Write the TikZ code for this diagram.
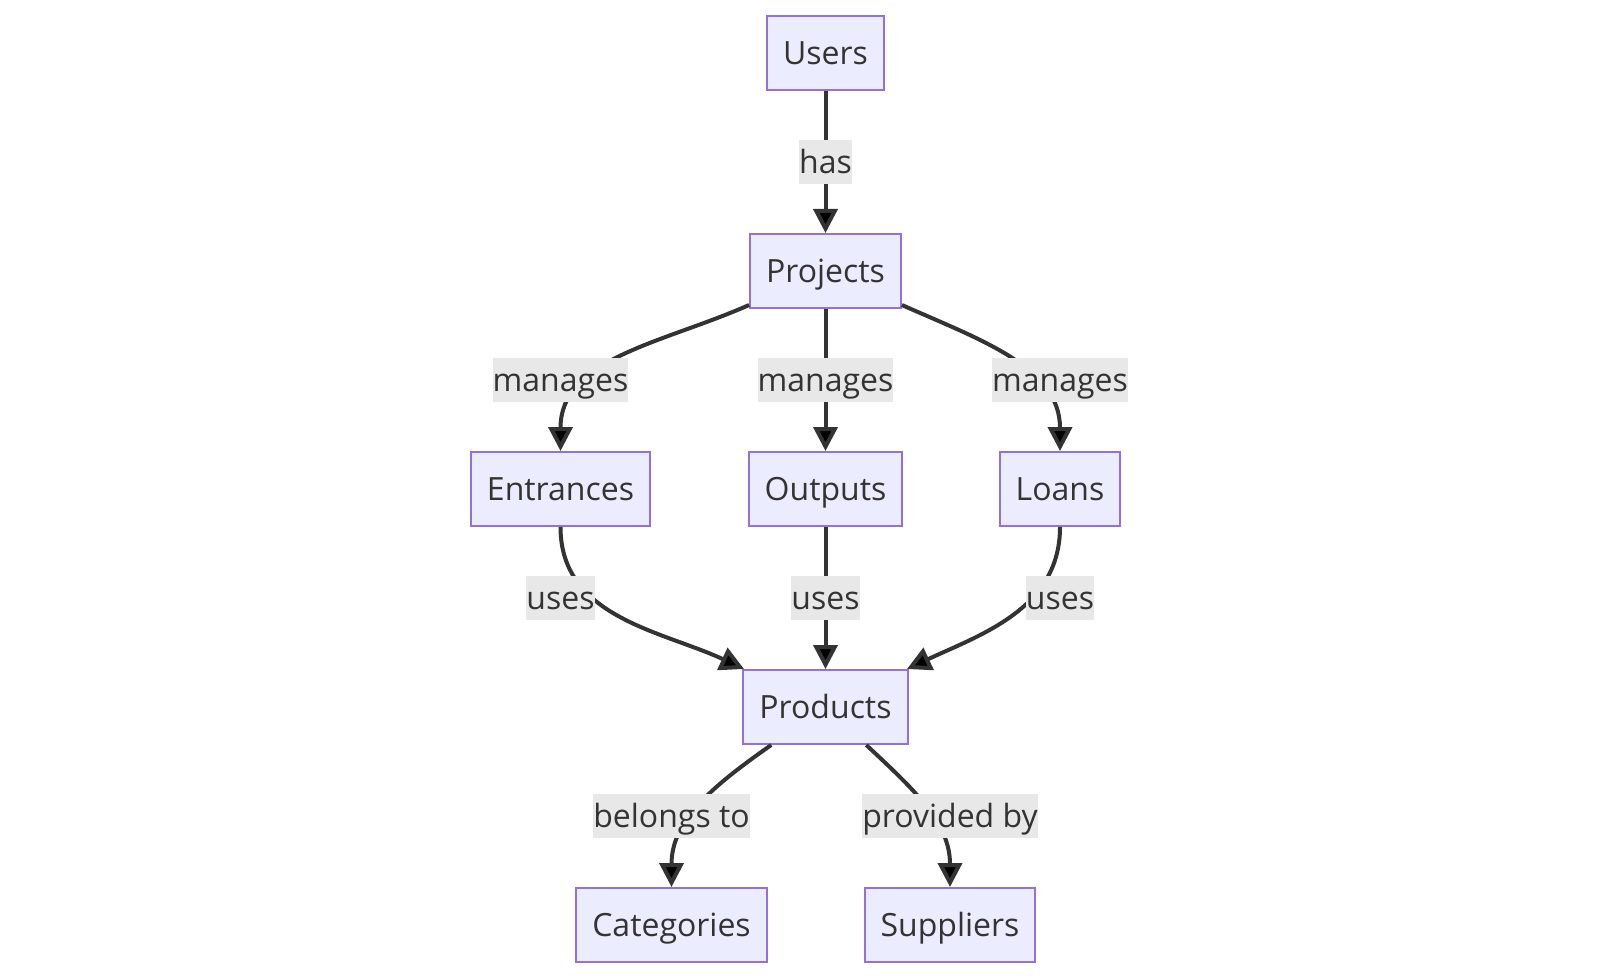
\documentclass[tikz,border=0pt]{standalone}
\usepackage{fontspec}
\setmainfont{Open Sans}
\usepackage{tikz}
\usetikzlibrary{positioning,arrows.meta}

\definecolor{boxfill}{HTML}{ECECFF}
\definecolor{boxline}{HTML}{9370DB}
\definecolor{ink}{HTML}{333333}
\definecolor{lblfill}{HTML}{E8E8E8}

\begin{document}
\begin{tikzpicture}[on grid,node distance=109pt,
    box/.style={rectangle,draw=boxline,fill=boxfill,line width=1pt,text=ink,
      inner xsep=8pt,minimum height=37pt,text height=12pt,text depth=0.6pt,
      font=\fontsize{16}{19}\selectfont},
    lbl/.style={fill=lblfill,text=ink,inner xsep=0pt,inner ysep=0pt,minimum height=22pt,
      text height=12pt,text depth=0.6pt,font=\fontsize{16}{19}\selectfont},
    link/.style={draw=ink,line width=2pt,-{Triangle[length=12pt,width=12pt]}}]
  \useasboundingbox (0,0) rectangle (800pt,-489pt);

  \node[box]   (u)  at (412.75pt,-26.5pt)                  {Users};
  \node[box]   (p)  [below=of u]                           {Projects};
  \node[box]   (e)  [below left=109pt and 132.5pt of p]    {Entrances};
  \node[box]   (o)  [below=of p]                           {Outputs};
  \node[box]   (l)  [below right=109pt and 117.25pt of p]  {Loans};
  \node[box]   (pr) [below=of o]                           {Products};
  \node[box]   (c)  [below left=109pt and 77pt of pr]      {Categories};
  \node[box]   (s)  [below right=109pt and 62.25pt of pr]  {Suppliers};

  \path[link] (u)  edge                    (p)
              (p)  edge [out=204,in=90]    (e)
                   edge                    (o)
                   edge [out=-24,in=90]    (l)
              (e)  edge [out=-90,in=155]   (pr)
              (o)  edge                    (pr)
              (l)  edge [out=-90,in=25]    (pr)
              (pr) edge [out=215,in=90]    (c)
                   edge [out=-43,in=90]    (s);

  \node[lbl] (has)  [below=54.5pt of u] {has};
  \node[lbl] (mgE)  [above=54.5pt of e] {manages};
  \node[lbl] (mgO)  [above=54.5pt of o] {manages};
  \node[lbl] (mgL)  [above=54.5pt of l] {manages};
  \node[lbl] (usE)  [below=54.5pt of e] {uses};
  \node[lbl] (usO)  [below=54.5pt of o] {uses};
  \node[lbl] (usL)  [below=54.5pt of l] {uses};
  \node[lbl] (blg)  [above=54.5pt of c] {belongs to};
  \node[lbl] (prv)  [above=54.5pt of s] {provided by};
\end{tikzpicture}
\end{document}
